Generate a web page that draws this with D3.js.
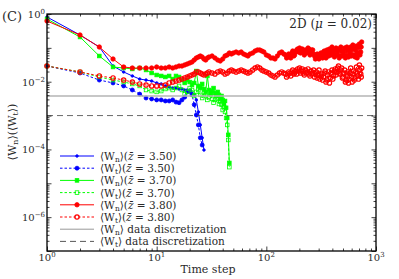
<!DOCTYPE html>
<html>
<head>
<meta charset="utf-8">
<script src="https://cdn.jsdelivr.net/npm/d3@7"></script>
<style>
  body { margin: 0; background: #fff; }
  text { font-family: "DejaVu Serif", serif; fill: #2a2a2a; }
</style>
</head>
<body>
<div id="chart"></div>
<script>
// ---- data ----
const blueSteps = [1,2,3,4,5,6,7,8,9,10, 11,12,13,14,15,16,17,18,19,20, 21,22,23,24,25,26,27];
const blueWn = [0.815,0.240,0.106,0.0291,0.0194,0.0148,0.0120,0.0112,0.0105,0.0092,
  0.0086,0.0075,0.0070,0.0065,0.0065,0.0061,0.0061,0.0057,0.0057,0.0050,
  0.0046,0.0041,0.0029,0.00128,0.00053,0.00022,0.000096];
const blueWt = [0.0291,0.0181,0.0112,0.0092,0.0075,0.0057,0.0043,0.0033,0.0031,0.0029,
  0.0029,0.0027,0.0027,0.0029,0.0025,0.0024,0.0029,0.0035,0.0050,0.0053,
  0.0041,0.0021,0.00104,0.00053,0.00022,0.000135];

const greenSteps = [1,2,3,4,5,6,7,8,9,10, 11,12,13,14,15,16,17,18,19,20,
  21,22,23,24,25,26,27,28,29,30, 31,32,33,34,35,36,37,38,39,40, 41,42,43,44,45,46];
const greenWn = [0.711,0.209,0.0575,0.0272,0.0254,0.0238,0.0254,0.0222,0.0181,0.0158,
  0.0148,0.0138,0.0148,0.0120,0.0148,0.0138,0.0112,0.0092,0.0112,0.0098,
  0.0080,0.0092,0.0207,0.0075,0.0065,0.0086,0.0061,0.0050,0.0148,0.0057,
  0.0043,0.0053,0.0065,0.0046,0.0038,0.0050,0.0041,0.0031,0.0038,0.0029,
  0.0022,0.0027,0.0017,0.00085,0.00027,0.00004];
const greenWt = [0.0291,0.0194,0.0138,0.0112,0.0098,0.0086,0.0075,0.0057,0.0053,0.0050,
  0.0053,0.0061,0.0065,0.0057,0.0065,0.0075,0.0057,0.0043,0.0050,0.0065,
  0.0057,0.0038,0.0050,0.0057,0.0041,0.0033,0.0046,0.0038,0.0029,0.0035,
  0.0043,0.0031,0.0024,0.0029,0.0038,0.0031,0.0022,0.0027,0.0021,0.00146,
  0.0018,0.00128,0.00085,0.00053,0.00019,0.00003];

const redSteps = [1,2,3,4,5,6,7,8,9,10,
  11,12,13,14,15,16,17,18,19,20,
  21,22,23,24,25,26,27,28,29,30,
  32,34,36,38,40,42,44,46,48,50,
  53,56,59,62,65,68,71,75,79,83,
  87,91,95,100,105,110,115,120,126,132,
  138,144,
  150,153,157,160,164,167,171,174,178,181,
  185,189,193,197,201,205,209,213,218,222,
  227,231,236,240,245,250,255,260,265,270,
  275,280,286,291,297,302,308,314,320,326,
  332,338,344,350,357,363,370,376,383,390,
  397,404,411,418,425,432,440,447,455,462,
  470,478,486,494,502,510,518,526,535,543,
  552,561,570,579,588,597,606,615,625,634,
  644,654,664,674,684,694,705,715,726,733,
  740];
const redWn = [0.621,0.240,0.106,0.0469,0.0272,0.0254,0.0254,0.0254,0.0254,0.0272,
  0.0254,0.0254,0.0272,0.0254,0.0272,0.0291,0.0291,0.0312,0.0334,0.0357,
  0.0382,0.0438,0.0502,0.0537,0.0575,0.0537,0.0469,0.0438,0.0502,0.0537,
  0.0575,0.0502,0.0438,0.0409,0.0469,0.0575,0.0615,0.0705,0.0659,0.0705,
  0.0755,0.0705,0.0755,0.0659,0.0615,0.0575,0.0659,0.0705,0.0807,0.0865,
  0.0865,0.0807,0.0755,0.0615,0.0575,0.0502,0.0502,0.0469,0.0575,0.0705,
  0.0755,0.0659,
  0.0615,0.0502,0.0537,0.0659,0.0615,0.0502,0.0705,0.0807,0.0575,0.0615,
  0.0755,0.0865,0.0925,0.0755,0.0991,0.0705,0.0807,0.0925,0.0705,0.0615,
  0.0865,0.0705,0.0755,0.0991,0.0925,0.0615,0.0705,0.0865,0.0865,0.0659,
  0.0575,0.0469,0.0502,0.0659,0.0615,0.0469,0.0537,0.0705,0.0659,0.0502,
  0.0755,0.0807,0.0615,0.0502,0.0865,0.0705,0.0575,0.0925,0.0755,0.0615,
  0.106,0.0807,0.0659,0.0537,0.0865,0.0991,0.0615,0.0755,0.0925,0.0502,
  0.0575,0.106,0.0807,0.0575,0.0615,0.0755,0.0991,0.0502,0.0575,0.106,
  0.0865,0.0537,0.0659,0.0807,0.106,0.0575,0.0615,0.1215,0.0925,0.0615,
  0.0537,0.0865,0.1135,0.0502,0.0705,0.106,0.130,0.0615,0.0755,0.106,
  0.149];
const redWt = [0.0291,0.0194,0.0148,0.0129,0.0112,0.0098,0.0086,0.0080,0.0075,0.0075,
  0.0075,0.0080,0.0092,0.0098,0.0105,0.0112,0.0120,0.0129,0.0138,0.0148,
  0.0158,0.0169,0.0194,0.0194,0.0181,0.0169,0.0158,0.0169,0.0181,0.0194,
  0.0181,0.0169,0.0194,0.0207,0.0194,0.0169,0.0181,0.0207,0.0222,0.0207,
  0.0194,0.0207,0.0222,0.0207,0.0194,0.0181,0.0194,0.0222,0.0254,0.0272,
  0.0254,0.0222,0.0207,0.0194,0.0181,0.0158,0.0148,0.0138,0.0158,0.0181,
  0.0194,0.0181,
  0.0169,0.0138,0.0158,0.0194,0.0181,0.0148,0.0194,0.0222,0.0169,0.0181,
  0.0207,0.0169,0.0238,0.0207,0.0254,0.0181,0.0207,0.0238,0.0181,0.0158,
  0.0222,0.0181,0.0194,0.0238,0.0169,0.0148,0.0207,0.0169,0.0181,0.0222,
  0.0138,0.0169,0.0194,0.0129,0.0158,0.0222,0.0120,0.0148,0.0169,0.0112,
  0.0138,0.0181,0.0207,0.0098,0.0112,0.0158,0.0194,0.0092,0.0129,0.0181,
  0.0222,0.0120,0.0148,0.0207,0.0238,0.0158,0.0194,0.0254,0.0291,0.0181,
  0.0169,0.0222,0.0254,0.0129,0.0138,0.0181,0.0222,0.0098,0.0112,0.0169,
  0.0194,0.0092,0.0120,0.0181,0.0254,0.0138,0.0098,0.0169,0.0207,0.0112,
  0.0129,0.0194,0.0272,0.0181,0.0148,0.0120,0.0312,0.0222,0.0169,0.0138,
  0.0254];

// discretization levels (horizontal reference lines)
const wnDiscretization = 0.0038;
const wtDiscretization = 0.001;

const xTickValues = [1, 10, 100, 1000];
const yTickValues = [1, 1e-1, 1e-2, 1e-3, 1e-4, 1e-5, 1e-6, 1e-7];
const yLabelValues = [1, 1e-2, 1e-4, 1e-6];
const zbarValues = ["3.50", "3.50", "3.70", "3.70", "3.80", "3.80"];

// ---- layout ----
const W = 399, H = 279;
const plot = {left: 47, right: 376, top: 14, bottom: 251};

const svg = d3.select("#chart").append("svg")
  .attr("width", W).attr("height", H);

const x = d3.scaleLog().domain([1, 1000]).range([plot.left, plot.right]);
const y = d3.scaleLog().domain([1e-7, 1]).range([plot.bottom, plot.top]);

const zip = (a, b) => a.map((t, i) => [t, b[i]]).filter(d => d[1] !== undefined);

const series = [
  {data: zip(blueSteps, blueWn), color: "#0000ff", dash: null, marker: "dot", r: 1.3, filled: true, sub: "n"},
  {data: zip(blueSteps, blueWt), color: "#0000ff", dash: "2.5,2", marker: "dot", r: 2, filled: true, sub: "t"},
  {data: zip(greenSteps, greenWn), color: "#00ff00", dash: null, marker: "square", r: 1.8, filled: true, sub: "n"},
  {data: zip(greenSteps, greenWt), color: "#00ff00", dash: "2.5,2", marker: "square", r: 1.8, filled: false, sub: "t"},
  {data: zip(redSteps, redWn), color: "#ff0000", dash: null, marker: "dot", r: 2.2, filled: true, sub: "n"},
  {data: zip(redSteps, redWt), color: "#ff0000", dash: "2.5,2", marker: "dot", r: 2.2, filled: false, sub: "t"}
];

function drawMarkers(g, pts, s) {
  if (s.marker === "square") {
    g.selectAll("rect.m").data(pts).join("rect").attr("class", "m")
      .attr("x", d => d[0] - s.r).attr("y", d => d[1] - s.r)
      .attr("width", 2 * s.r).attr("height", 2 * s.r)
      .attr("fill", s.filled ? s.color : "none")
      .attr("stroke", s.color).attr("stroke-width", 0.8);
  } else {
    g.selectAll("circle.m").data(pts).join("circle").attr("class", "m")
      .attr("cx", d => d[0]).attr("cy", d => d[1]).attr("r", s.r)
      .attr("fill", s.filled ? s.color : "none")
      .attr("stroke", s.color).attr("stroke-width", s.filled ? 0.8 : 1.2);
  }
}

const line = d3.line().x(d => x(d[0])).y(d => y(d[1]));

// series
series.forEach(s => {
  const g = svg.append("g");
  g.append("path").attr("d", line(s.data))
    .attr("fill", "none").attr("stroke", s.color).attr("stroke-width", 1)
    .attr("stroke-dasharray", s.dash);
  drawMarkers(g, s.data.map(d => [x(d[0]), y(d[1])]), s);
});

// discretization lines
svg.append("line")
  .attr("x1", plot.left).attr("x2", plot.right)
  .attr("y1", y(wnDiscretization)).attr("y2", y(wnDiscretization))
  .attr("stroke", "#b4b4b4").attr("stroke-width", 1.4);
svg.append("line")
  .attr("x1", plot.left).attr("x2", plot.right)
  .attr("y1", y(wtDiscretization)).attr("y2", y(wtDiscretization))
  .attr("stroke", "#444").attr("stroke-width", 0.8).attr("stroke-dasharray", "6,4");

// axes: inward ticks on all four sides
const isPow = v => Math.abs(Math.log10(v) - Math.round(Math.log10(v))) < 1e-6;
const xMinor = x.ticks().filter(v => !isPow(v));
const yMinor = y.ticks().filter(v => !isPow(v));

function ticks(axisFn, scale, pos, major, minor) {
  const g = svg.append("g").attr("transform", pos);
  g.call(axisFn(scale).tickValues(major).tickSize(-4.5).tickFormat(""));
  g.append("g").call(axisFn(scale).tickValues(minor).tickSize(-2.5).tickFormat(""));
  g.selectAll(".domain").remove();
  g.selectAll("line").attr("stroke", "#111").attr("stroke-width", 0.8);
}
ticks(d3.axisBottom, x, `translate(0,${plot.bottom})`, xTickValues, xMinor);
ticks(d3.axisTop, x, `translate(0,${plot.top})`, xTickValues, xMinor);
ticks(d3.axisLeft, y, `translate(${plot.left},0)`, yTickValues, yMinor);
ticks(d3.axisRight, y, `translate(${plot.right},0)`, yTickValues, yMinor);

svg.append("rect")
  .attr("x", plot.left).attr("y", plot.top)
  .attr("width", plot.right - plot.left).attr("height", plot.bottom - plot.top)
  .attr("fill", "none").attr("stroke", "#000").attr("stroke-width", 1.3);

// tick labels
const exp = v => String(Math.round(Math.log10(v))).replace("-", "\u2212");
svg.selectAll("text.xl").data(xTickValues).join("text").attr("class", "xl")
  .attr("x", d => x(d)).attr("y", 261).attr("text-anchor", "middle")
  .attr("font-size", 10)
  .each(function(d) {
    const t = d3.select(this);
    t.append("tspan").text("10");
    t.append("tspan").attr("dy", -4).attr("font-size", 7).text(exp(d));
  });
svg.selectAll("text.yl").data(yLabelValues).join("text").attr("class", "yl")
  .attr("x", 45).attr("y", d => y(d) + 4).attr("text-anchor", "end")
  .attr("font-size", 10)
  .each(function(d) {
    const t = d3.select(this);
    t.append("tspan").text("10");
    t.append("tspan").attr("dy", -4).attr("font-size", 7).text(exp(d));
  });

// axis titles
svg.append("text").attr("x", 208).attr("y", 273).attr("text-anchor", "middle")
  .attr("font-size", 11).text("Time step");

const yt = svg.append("text").attr("transform", "translate(16,132) rotate(-90)")
  .attr("text-anchor", "middle").attr("font-size", 11);
yt.append("tspan").text("\u27E8W");
yt.append("tspan").attr("dy", 2).attr("font-size", 8).text("n");
yt.append("tspan").attr("dy", -2).text("\u27E9(\u27E8W");
yt.append("tspan").attr("dy", 2).attr("font-size", 8).text("t");
yt.append("tspan").attr("dy", -2).text("\u27E9)");

svg.append("text").attr("x", 2).attr("y", 21).attr("font-size", 13).text("(C)");

const tag = svg.append("text").attr("x", 372).attr("y", 28).attr("text-anchor", "end")
  .attr("font-size", 12);
tag.append("tspan").text("2D (");
tag.append("tspan").attr("font-style", "italic").text("\u03BC");
tag.append("tspan").text(" = 0.02)");

// legend
const lg = svg.append("g");
const rowY = i => 156 + i * 12.2;
const legendItems = series.map((s, i) => ({s, z: zbarValues[i]}));

legendItems.forEach((it, i) => {
  const s = it.s, yy = rowY(i);
  lg.append("line").attr("x1", 60).attr("x2", 94).attr("y1", yy).attr("y2", yy)
    .attr("stroke", s.color).attr("stroke-width", 1).attr("stroke-dasharray", s.dash);
  drawMarkers(lg.append("g"), [[77, yy]], s);
  const t = lg.append("text").attr("x", 100).attr("y", yy + 4).attr("font-size", 10.5);
  t.append("tspan").text("\u27E8W");
  t.append("tspan").attr("dy", 2).attr("font-size", 7.5).text(s.sub);
  t.append("tspan").attr("dy", -2).text("\u27E9(");
  t.append("tspan").attr("font-style", "italic").text("z\u0304");
  t.append("tspan").text(" = " + it.z + ")");
});

[["n", null, "#8c8c8c"], ["t", "6,4", "#444"]].forEach((d, k) => {
  const yy = rowY(6 + k);
  lg.append("line").attr("x1", 60).attr("x2", 94).attr("y1", yy).attr("y2", yy)
    .attr("stroke", d[2]).attr("stroke-width", 0.9).attr("stroke-dasharray", d[1]);
  const t = lg.append("text").attr("x", 100).attr("y", yy + 4).attr("font-size", 10.5);
  t.append("tspan").text("\u27E8W");
  t.append("tspan").attr("dy", 2).attr("font-size", 7.5).text(d[0]);
  t.append("tspan").attr("dy", -2).text("\u27E9 data discretization");
});
</script>
</body>
</html>
